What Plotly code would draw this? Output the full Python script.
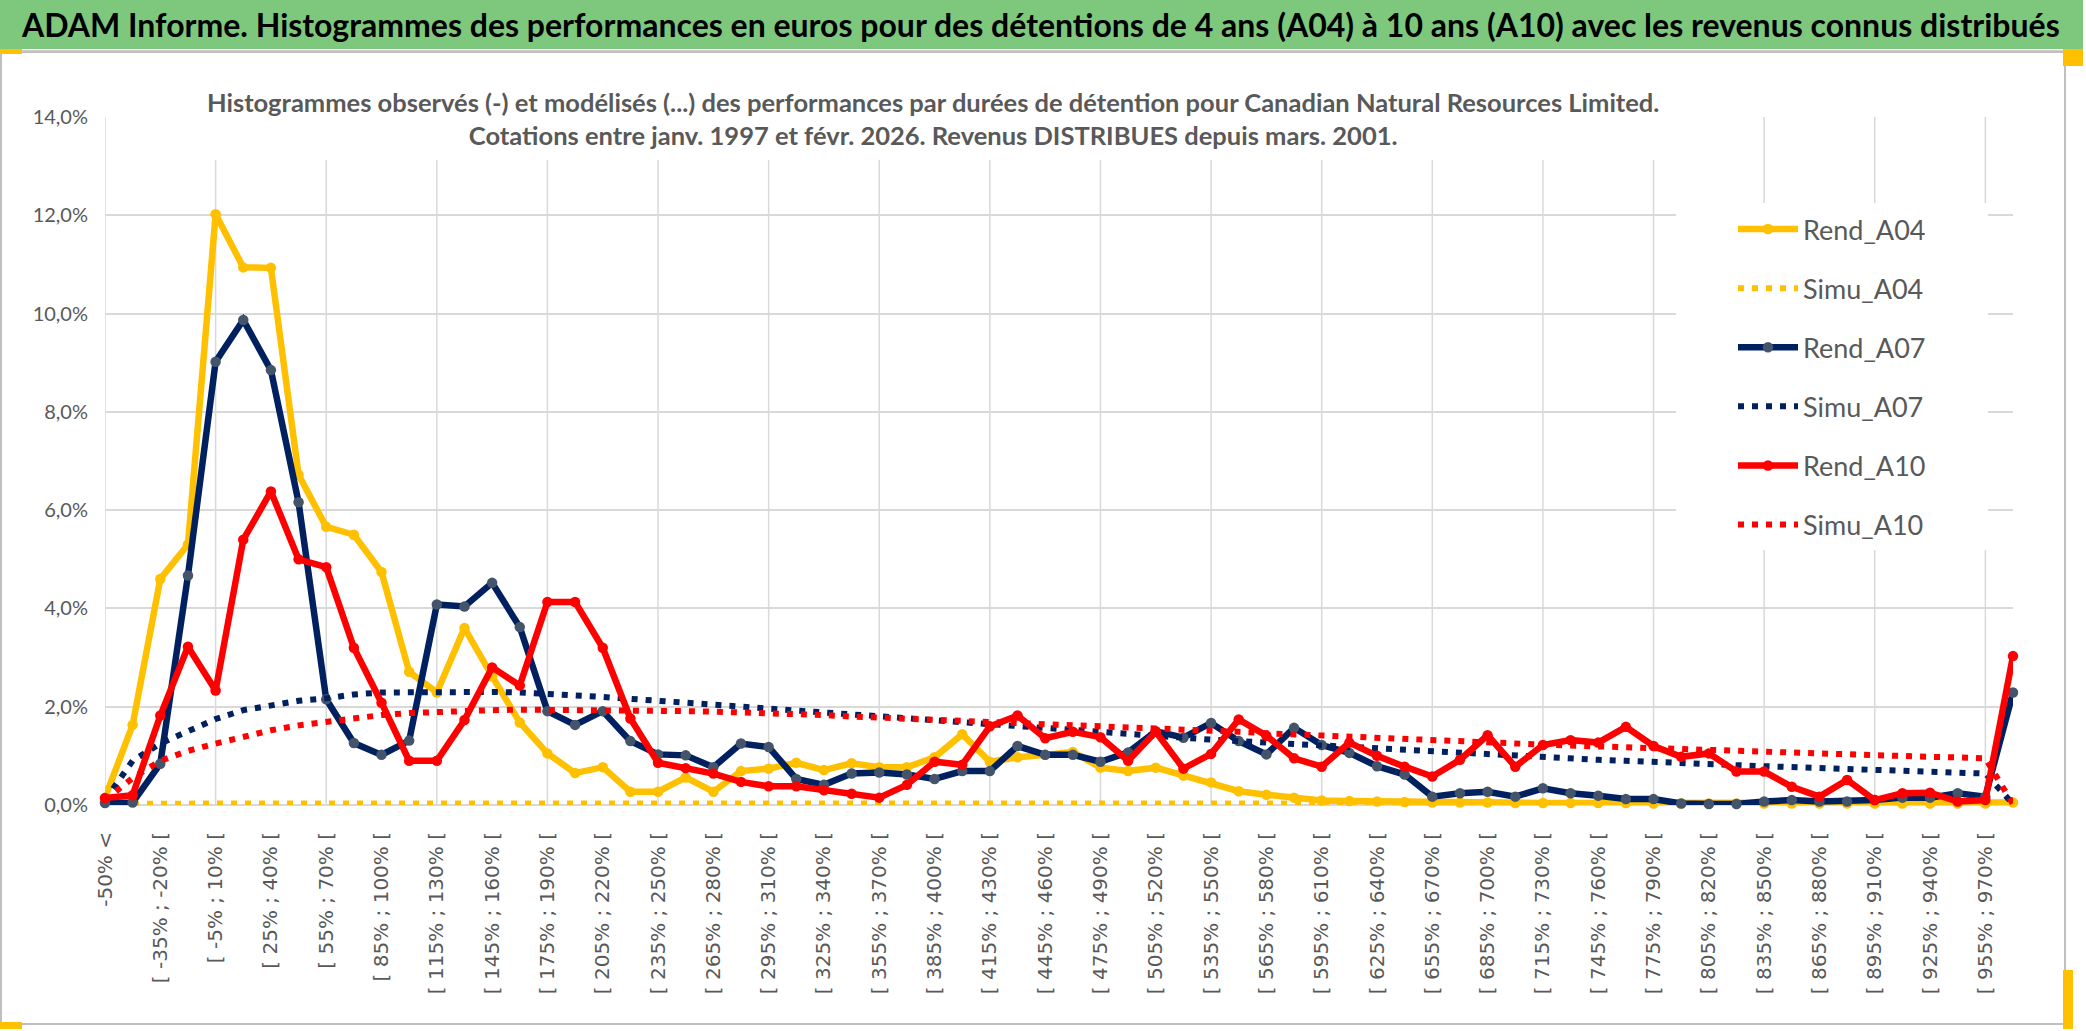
import plotly.graph_objects as go

# ---------------- data ----------------
categories = ["-50% <"] + [f"[ {a}% ; {a + 15}% [" for a in range(-50, 970, 15)] + ["970% >"]
tick_labels = categories[::2]

rend_a04 = [0.15, 1.63, 4.60, 5.30, 12.02, 10.94, 10.93, 6.72, 5.66, 5.50,
            4.74, 2.71, 2.29, 3.60, 2.62, 1.68, 1.05, 0.65, 0.77, 0.27,
            0.27, 0.56, 0.27, 0.69, 0.74, 0.86, 0.71, 0.85, 0.77, 0.77,
            0.97, 1.44, 0.88, 0.97, 1.02, 1.08, 0.76, 0.69, 0.76, 0.60,
            0.46, 0.28, 0.21, 0.15, 0.09, 0.08, 0.07, 0.06, 0.05, 0.05,
            0.05, 0.04, 0.04, 0.04, 0.04, 0.04, 0.03, 0.03, 0.03, 0.03,
            0.03, 0.03, 0.03, 0.03, 0.03, 0.03, 0.03, 0.03, 0.03, 0.05]

simu_a04 = [0.02, 0.03, 0.03, 0.03, 0.03, 0.03, 0.03, 0.03, 0.03, 0.03,
            0.03, 0.03, 0.03, 0.03, 0.03, 0.03, 0.03, 0.03, 0.03, 0.03,
            0.03, 0.03, 0.03, 0.03, 0.03, 0.03, 0.03, 0.03, 0.03, 0.03,
            0.03, 0.03, 0.03, 0.03, 0.03, 0.03, 0.03, 0.03, 0.03, 0.03,
            0.03, 0.03, 0.03, 0.03, 0.03, 0.03, 0.03, 0.03, 0.03, 0.03,
            0.03, 0.03, 0.03, 0.03, 0.03, 0.03, 0.03, 0.03, 0.03, 0.03,
            0.03, 0.03, 0.03, 0.03, 0.03, 0.03, 0.03, 0.03, 0.03, 0.03]

rend_a07 = [0.04, 0.05, 0.84, 4.67, 9.02, 9.87, 8.85, 6.16, 2.15, 1.26,
            1.02, 1.31, 4.08, 4.04, 4.52, 3.62, 1.91, 1.63, 1.91, 1.30,
            1.03, 1.01, 0.77, 1.25, 1.18, 0.53, 0.41, 0.64, 0.66, 0.62,
            0.53, 0.69, 0.69, 1.20, 1.02, 1.02, 0.88, 1.07, 1.50, 1.37,
            1.67, 1.30, 1.03, 1.57, 1.22, 1.06, 0.79, 0.62, 0.17, 0.24,
            0.27, 0.17, 0.34, 0.24, 0.19, 0.12, 0.12, 0.03, 0.02, 0.02,
            0.07, 0.10, 0.07, 0.07, 0.10, 0.15, 0.15, 0.24, 0.17, 2.29]

simu_a07 = [0.10, 0.90, 1.25, 1.50, 1.75, 1.93, 2.03, 2.12, 2.17, 2.25,
            2.29, 2.30, 2.31, 2.31, 2.30, 2.29, 2.27, 2.24, 2.20, 2.16,
            2.12, 2.08, 2.05, 2.01, 1.97, 1.92, 1.88, 1.83, 1.79, 1.75,
            1.71, 1.67, 1.63, 1.59, 1.55, 1.51, 1.47, 1.44, 1.40, 1.37,
            1.33, 1.30, 1.27, 1.24, 1.20, 1.17, 1.14, 1.11, 1.08, 1.05,
            1.02, 0.99, 0.97, 0.94, 0.92, 0.90, 0.87, 0.85, 0.83, 0.81,
            0.79, 0.77, 0.75, 0.73, 0.71, 0.69, 0.67, 0.66, 0.64, 0.02]

rend_a10 = [0.14, 0.20, 1.82, 3.22, 2.33, 5.40, 6.38, 5.00, 4.84, 3.20,
            2.08, 0.90, 0.90, 1.73, 2.80, 2.43, 4.13, 4.13, 3.20, 1.76,
            0.86, 0.75, 0.64, 0.47, 0.38, 0.38, 0.30, 0.23, 0.15, 0.41,
            0.88, 0.82, 1.60, 1.82, 1.36, 1.49, 1.38, 0.90, 1.49, 0.74,
            1.04, 1.74, 1.41, 0.95, 0.78, 1.27, 1.00, 0.78, 0.58, 0.92,
            1.42, 0.78, 1.22, 1.32, 1.27, 1.59, 1.20, 0.98, 1.05, 0.68,
            0.68, 0.37, 0.17, 0.51, 0.10, 0.24, 0.25, 0.07, 0.10, 3.03]

simu_a10 = [0.10, 0.55, 0.90, 1.10, 1.25, 1.40, 1.52, 1.62, 1.70, 1.77,
            1.83, 1.87, 1.90, 1.92, 1.93, 1.94, 1.94, 1.94, 1.93, 1.93,
            1.92, 1.91, 1.90, 1.89, 1.87, 1.85, 1.83, 1.80, 1.78, 1.76,
            1.74, 1.71, 1.69, 1.67, 1.65, 1.62, 1.60, 1.58, 1.56, 1.53,
            1.51, 1.49, 1.46, 1.44, 1.41, 1.39, 1.37, 1.35, 1.33, 1.30,
            1.28, 1.25, 1.23, 1.21, 1.19, 1.17, 1.15, 1.14, 1.12, 1.10,
            1.09, 1.07, 1.06, 1.04, 1.02, 1.00, 0.98, 0.97, 0.95, 0.02]

title_text = ("ADAM Informe. Histogrammes des performances en euros pour des détentions "
              "de 4 ans (A04) à 10 ans (A10) avec les revenus connus distribués")
subtitle_text = ("Histogrammes observés (-) et modélisés (...) des performances par durées "
                 "de détention pour Canadian Natural Resources Limited.<br>"
                 "Cotations entre janv. 1997 et févr. 2026. Revenus DISTRIBUES depuis mars. 2001.")

# ---------------- styles ----------------
GOLD = "#FFC000"
NAVY = "#002060"
SLATE = "#44546A"
RED = "#FF0000"
GRID = "#D9D9D9"
TXT = "#595959"
MAIN_FONT = "Lato, 'Open Sans', sans-serif"

W, H = 2086, 1031
ML, MR, MT, MB = 105, 73, 117, 226
PW, PH = W - ML - MR, H - MT - MB


def px_x(px):
    return (px - ML) / PW


def px_y(py):
    return (H - MB - py) / PH


fig = go.Figure()

series = [
    ("Rend_A04", rend_a04, GOLD, GOLD, True),
    ("Simu_A04", simu_a04, GOLD, GOLD, False),
    ("Rend_A07", rend_a07, NAVY, SLATE, True),
    ("Simu_A07", simu_a07, NAVY, NAVY, False),
    ("Rend_A10", rend_a10, RED, RED, True),
    ("Simu_A10", simu_a10, RED, RED, False),
]
for name, vals, lc, mc, observed in series:
    if observed:
        fig.add_trace(go.Scatter(
            x=categories, y=vals, name=name, legendgroup=name,
            mode="lines+markers",
            line=dict(color=lc, width=6.5),
            marker=dict(color=mc, size=10.5),
            cliponaxis=False,
        ))
    else:
        fig.add_trace(go.Scatter(
            x=categories, y=vals, name=name, legendgroup=name,
            mode="lines",
            line=dict(color=lc, width=6, dash="6px,8px"),
            cliponaxis=False,
        ))

shapes = []
# vertical gridlines every 4 categories
for k in range(0, len(categories), 4):
    shapes.append(dict(type="line", xref="x", yref="paper", x0=k, x1=k, y0=0, y1=1,
                       line=dict(color=GRID, width=1.5), layer="below"))
# banner
shapes.append(dict(type="rect", xref="paper", yref="paper",
                   x0=px_x(0), x1=px_x(2083), y0=px_y(0), y1=px_y(49),
                   fillcolor="#7DC87D", line=dict(width=0), layer="below"))
shapes.append(dict(type="line", xref="paper", yref="paper",
                   x0=px_x(0), x1=px_x(2066), y0=px_y(51), y1=px_y(51),
                   line=dict(color="#D0D0D0", width=2), layer="below"))
# outer border of chart
shapes.append(dict(type="rect", xref="paper", yref="paper",
                   x0=px_x(1), x1=px_x(2065), y0=px_y(52), y1=px_y(1024),
                   line=dict(color="#BFBFBF", width=2), fillcolor="rgba(0,0,0,0)", layer="below"))
# white boxes behind subtitle and legend (hide gridlines)
shapes.append(dict(type="rect", xref="paper", yref="paper",
                   x0=px_x(199), x1=px_x(1668), y0=px_y(100), y1=px_y(160),
                   fillcolor="white", line=dict(width=0), layer="above"))
shapes.append(dict(type="rect", xref="paper", yref="paper",
                   x0=px_x(1676), x1=px_x(1988), y0=px_y(203), y1=px_y(550),
                   fillcolor="white", line=dict(width=0), layer="above"))
# selection handles (yellow)
for (a, b, c, d) in [(0, 22, 49, 54), (0, 22, 1022, 1029), (2063, 2073, 970, 1029), (2063, 2083, 49, 66)]:
    shapes.append(dict(type="rect", xref="paper", yref="paper",
                       x0=px_x(a), x1=px_x(b), y0=px_y(c), y1=px_y(d),
                       fillcolor=GOLD, line=dict(width=0), layer="above"))

annotations = [
    dict(text=title_text, xref="paper", yref="paper", x=px_x(1040), y=px_y(25),
         xanchor="center", yanchor="middle", showarrow=False,
         font=dict(family=MAIN_FONT, size=32, color="black", weight="bold")),
    dict(text=subtitle_text, xref="paper", yref="paper", x=px_x(933), y=px_y(118),
         xanchor="center", yanchor="middle", showarrow=False,
         font=dict(family=MAIN_FONT, size=25.5, color=TXT, weight="bold")),
]

fig.update_layout(
    width=W, height=H,
    margin=dict(l=ML, r=MR, t=MT, b=MB),
    paper_bgcolor="white", plot_bgcolor="white",
    separators=", ",
    shapes=shapes,
    annotations=annotations,
    showlegend=True,
    legend=dict(x=px_x(1733), y=px_y(205), xanchor="left", yanchor="top",
                bgcolor="rgba(0,0,0,0)", font=dict(family=MAIN_FONT, size=27, color=TXT),
                tracegroupgap=21, itemwidth=60, traceorder="grouped"),
    xaxis=dict(type="category", range=[0, len(categories) - 1],
               tickmode="array", tickvals=tick_labels, ticktext=tick_labels,
               tickangle=-90, showgrid=False, zeroline=False, ticks="",
               ticklabelstandoff=22,
               tickfont=dict(family="DejaVu Sans", size=20, color=TXT)),
    yaxis=dict(range=[0, 14], dtick=2, tickformat=".1f", ticksuffix="%",
               showgrid=True, gridcolor=GRID, gridwidth=1.5,
               zeroline=True, zerolinecolor=GRID, zerolinewidth=1.5,
               ticks="", ticklabelstandoff=16,
               tickfont=dict(family=MAIN_FONT, size=20, color=TXT)),
)

fig.write_html("out.html", config={"displayModeBar": False},
               post_script="document.body.style.margin='0';")
